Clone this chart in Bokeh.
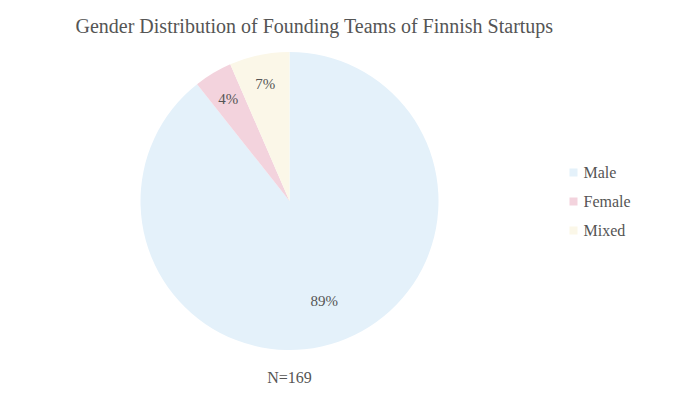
import numpy as np
from bokeh.plotting import figure
from bokeh.models import Range1d, ColumnDataSource
from bokeh.core.properties import value
from bokeh.embed import file_html
from bokeh.resources import INLINE

# ---- data ----
categories = ["Male", "Female", "Mixed"]
counts = [151, 7, 11]
colors = ["#e4f1fa", "#f3d3dd", "#fbf7e8"]
title_text = "Gender Distribution of Founding Teams of Finnish Startups"
note_text = "N=169"

FONT = value("Liberation Serif")
TXT = "#555555"

W, H = 664, 385
p = figure(width=W, height=H, output_backend="svg", toolbar_location=None,
           x_range=Range1d(0, W), y_range=Range1d(0, H), min_border=0)
p.axis.visible = False
p.grid.visible = False
p.outline_line_color = None
p.background_fill_color = "white"
p.border_fill_color = "white"

cx, cy, R = 289, 184.5, 149
total = sum(counts)
shares = np.array(counts) / total
cum = np.concatenate([[0], np.cumsum(shares)])
# clockwise from 12 o'clock
start_cw = cum[:-1] * 2 * np.pi
end_cw = cum[1:] * 2 * np.pi
start_angle = np.pi / 2 - end_cw
end_angle = np.pi / 2 - start_cw

src = ColumnDataSource(dict(start=start_angle, end=end_angle, color=colors, cat=categories))
p.wedge(x=cx, y=cy, radius=R, start_angle="start", end_angle="end",
        fill_color="color", line_color=None, source=src)

mid = (start_cw + end_cw) / 2
rf = np.where(shares > 0.5, 0.71, 0.80)
lx = cx + R * rf * np.sin(mid)
ly = cy + R * rf * np.cos(mid)
labels = [f"{round(s*100)}%" for s in shares]
p.text(x=lx, y=ly, text=labels, text_font=FONT, text_font_size="15px",
       text_color=TXT, text_align="center", text_baseline="middle")

# title
p.text(x=[314], y=[360], text=[title_text], text_font=FONT, text_font_size="20px",
       text_color=TXT, text_align="center", text_baseline="middle")

# note
p.text(x=[cx], y=[8], text=[note_text], text_font=FONT, text_font_size="16px",
       text_color=TXT, text_align="center", text_baseline="middle")

# legend
leg_y = 213 - 29 * np.arange(len(categories))
p.rect(x=573, y=leg_y, width=8, height=8, fill_color=colors, line_color=None)
p.text(x=583, y=leg_y, text=categories, text_font=FONT, text_font_size="16px",
       text_color=TXT, text_align="left", text_baseline="middle")

open("out.html", "w").write(file_html(p, INLINE))
